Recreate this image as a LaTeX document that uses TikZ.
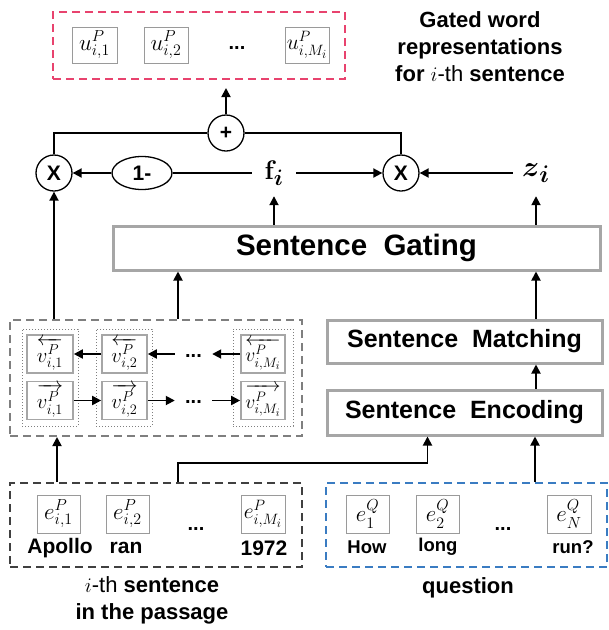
\documentclass[tikz,border=0pt]{standalone}
\usepackage{amsmath}
\usepackage{graphicx}
\usepackage[no-math]{fontspec}
\setmainfont{Liberation Sans}
\usetikzlibrary{arrows.meta,shapes.geometric}
\definecolor{pinkc}{HTML}{E8436E}
\definecolor{bluec}{HTML}{3A7CC2}
\definecolor{grayd}{HTML}{7F7F7F}
\definecolor{darkd}{HTML}{404040}
\definecolor{boxg}{HTML}{A6A6A6}
\definecolor{sboxg}{HTML}{9A9A9A}
\newcommand{\mbig}[1]{\scalebox{1.11}{$#1$}}
\newcommand{\mmid}[1]{\scalebox{1.04}{$#1$}}
\begin{document}
\begin{tikzpicture}[x=1pt,y=-1pt,
  ln/.style={line width=1.8pt},
  arr/.style={line width=1.8pt,-{Triangle[length=9pt,width=9pt]}},
  mbox/.style={draw=sboxg, line width=0.9pt, minimum height=37pt, inner sep=0pt, font=\fontsize{20.74}{20.74}\selectfont},
  vbox/.style={draw=boxg, line width=1.6pt, minimum height=38pt, inner sep=0pt, font=\fontsize{20.74}{20.74}\selectfont},
  grp/.style={draw=grayd, dotted, line width=1pt, minimum height=97pt, inner sep=0pt},
  dbox/.style={dash pattern=on 8pt off 5pt, line width=2pt, inner sep=0pt},
  bigbox/.style={draw=boxg, line width=3pt, fill=white, inner sep=0pt},
  circ/.style={circle, draw, line width=1.3pt, minimum size=36pt, inner sep=0pt, font=\bfseries\fontsize{21}{21}\selectfont},
  word/.style={font=\bfseries\fontsize{21}{21}\selectfont, inner sep=0pt},
  qword/.style={font=\bfseries\fontsize{18.5}{18.5}\selectfont, inner sep=0pt},
  dots/.style={font=\bfseries\fontsize{20}{20}\selectfont, inner sep=0pt},
  lbl/.style={font=\bfseries\fontsize{22}{27}\selectfont, align=center, inner sep=0pt}
]
\useasboundingbox (0,0) rectangle (609,630);

% top output box
\node[dbox, draw=pinkc, minimum width=292pt, minimum height=67pt] (pink) at (199,45.5) {};
\node[mbox, minimum width=45pt, minimum height=36pt] (u1) at (94.5,45) {\mbig{u^{P}_{i,1}}};
\node[mbox, minimum width=44pt, minimum height=36pt] (u2) at (166,45) {\mbig{u^{P}_{i,2}}};
\node[dots] (ud) at (237,48) {...};
\node[mbox, minimum width=44pt, minimum height=36pt] (u3) at (307,45) {\mmid{u^{P}_{i,M_i}}};
\node[lbl] (title) at (480,47) {Gated word\\representations\\for {\mdseries$i$-th} sentence};

% gating operations
\node[circ] (plus) at (226,133) {+};
\node[circ] (xl) at (54,173) {X};
\node[circ] (xr) at (401,173) {X};
\node[ellipse, draw, line width=1.3pt, minimum width=60pt, minimum height=33pt, inner sep=0pt, font=\bfseries\fontsize{21}{21}\selectfont] (om) at (142,173) {1-};
\node[minimum width=44pt, minimum height=46pt, inner sep=0pt, font=\fontsize{24.88}{24.88}\selectfont] (fi) at (274,173) {\scalebox{1.08}{$\mathbf{f}_{\boldsymbol{i}}$}};
\node[minimum width=46pt, minimum height=46pt, inner sep=0pt, font=\fontsize{24.88}{24.88}\selectfont] (zi) at (536,173) {\scalebox{1.16}{$\boldsymbol{z}_{\boldsymbol{i}}$}};

\draw[ln] (xl.north) -- (xl.north |- plus) -- (plus.west);
\draw[ln] (plus.east) -- (plus -| xr) -- (xr.north);
\draw[arr, shorten >=8pt] (plus.north) -- (plus |- pink.south);
\draw[ln] (fi.west) -- (om.east);
\draw[arr] (om.west) -- (xl.east);
\draw[arr] (fi.east) -- (xr.west);
\draw[arr] (zi.west) -- (xr.east);

% big boxes
\node[bigbox, minimum width=487pt, minimum height=44pt, font=\bfseries\fontsize{29.5}{29.5}\selectfont] (gating) at (356.5,248) {Sentence\ \ Gating};
\node[bigbox, minimum width=275pt, minimum height=43pt, font=\bfseries\fontsize{25}{25}\selectfont] (match) at (464.5,341.5) {Sentence\ \ Matching};
\node[bigbox, minimum width=275pt, minimum height=45pt, font=\bfseries\fontsize{25}{25}\selectfont] (enc) at (464.5,412.5) {Sentence\ \ Encoding};

\draw[arr] (gating.north -| fi) -- (fi.south);
\draw[arr] (gating.north -| zi) -- (zi.south);
\draw[arr] (match.north -| zi) -- (gating.south -| zi);
\draw[arr] (enc.north -| zi) -- (match.south -| zi);

% BiLSTM block
\node[dbox, draw=grayd, minimum width=292pt, minimum height=116pt] (vgroup) at (156,378) {};
\node[grp, minimum width=56pt] (g1) at (50,377.5) {};
\node[grp, minimum width=56pt] (g2) at (124,377.5) {};
\node[grp, minimum width=60pt] (g3) at (263,377.5) {};
\node[vbox, minimum width=46pt] (v1b) at (50,354) {$\overleftarrow{v^{P}_{i,1}}$};
\node[vbox, minimum width=46pt] (v1f) at (50,400.5) {$\overrightarrow{v^{P}_{i,1}}$};
\node[vbox, minimum width=45pt] (v2b) at (124.5,354) {$\overleftarrow{v^{P}_{i,2}}$};
\node[vbox, minimum width=45pt] (v2f) at (124.5,400.5) {$\overrightarrow{v^{P}_{i,2}}$};
\node[vbox, minimum width=44pt] (vMb) at (263,354) {\scalebox{0.95}{$\overleftarrow{v^{P}_{i,M_i}}$}};
\node[vbox, minimum width=44pt] (vMf) at (263,400.5) {\scalebox{0.95}{$\overrightarrow{v^{P}_{i,M_i}}$}};
\node[dots, minimum width=37pt] (db) at (193.5,356) {...};
\node[dots, minimum width=37pt] (df) at (193.5,402) {...};

\draw[arr] (v2b.west) -- (v1b.east);
\draw[arr] (db.west |- v2b.east) -- (v2b.east);
\draw[arr] (vMb.west) -- (vMb.west -| db.east);
\draw[arr] (v1f.east) -- (v2f.west);
\draw[arr] (v2f.east) -- (v2f.east -| df.west);
\draw[arr] (vMf.west -| df.east) -- (vMf.west);

\draw[arr] (vgroup.north -| xl) -- (xl.south);
\coordinate (vout) at ([xshift=169pt]vgroup.north west);
\draw[arr] (vout) -- (vout |- gating.south);

% passage
\node[dbox, draw=darkd, minimum width=292pt, minimum height=84pt] (passage) at (156,525) {};
\node[mbox, minimum width=43pt, minimum height=38pt] (pe1) at (58.5,514) {\mbig{e^{P}_{i,1}}};
\node[mbox, minimum width=43pt, minimum height=38pt] (pe2) at (127.5,514) {\mbig{e^{P}_{i,2}}};
\node[dots] (pd) at (196,529) {...};
\node[mbox, minimum width=44pt, minimum height=38pt] (peM) at (263,514) {\mmid{e^{P}_{i,M_i}}};
\node[word] (w1) at (60,548) {Apollo};
\node[word] (w2) at (126,548) {ran};
\node[word] (w3) at (264,548) {1972};
\node[lbl] (plabel) at (152,600) {{\mdseries$i$-th} sentence\\in the passage};

% question
\node[dbox, draw=bluec, minimum width=281pt, minimum height=84pt] (question) at (466.5,525) {};
\node[mbox, minimum width=43pt, minimum height=38pt] (qe1) at (367.5,514) {\mbig{e^{Q}_{1}}};
\node[mbox, minimum width=43pt, minimum height=38pt] (qe2) at (437.5,514) {\mbig{e^{Q}_{2}}};
\node[dots] (qd) at (503,529) {...};
\node[mbox, minimum width=44pt, minimum height=38pt] (qeN) at (569,514) {\mbig{e^{Q}_{N}}};
\node[qword] (q1) at (367,547) {How};
\node[qword] (q2) at (438,547) {long};
\node[qword] (q3) at (573,547) {run?};
\node[lbl] (qlabel) at (468,588) {question};

% connectors from inputs
\draw[arr] ([xshift=48pt]passage.north west) -- ([xshift=48pt]vgroup.south west);
\coordinate (encin) at ([xshift=102pt]enc.south west);
\draw[arr] ([xshift=169pt]passage.north west) -- ++(0,-19) -| (encin);
\coordinate (qout) at ([xshift=210pt]question.north west);
\draw[arr] (qout) -- (qout |- enc.south);
\end{tikzpicture}
\end{document}
